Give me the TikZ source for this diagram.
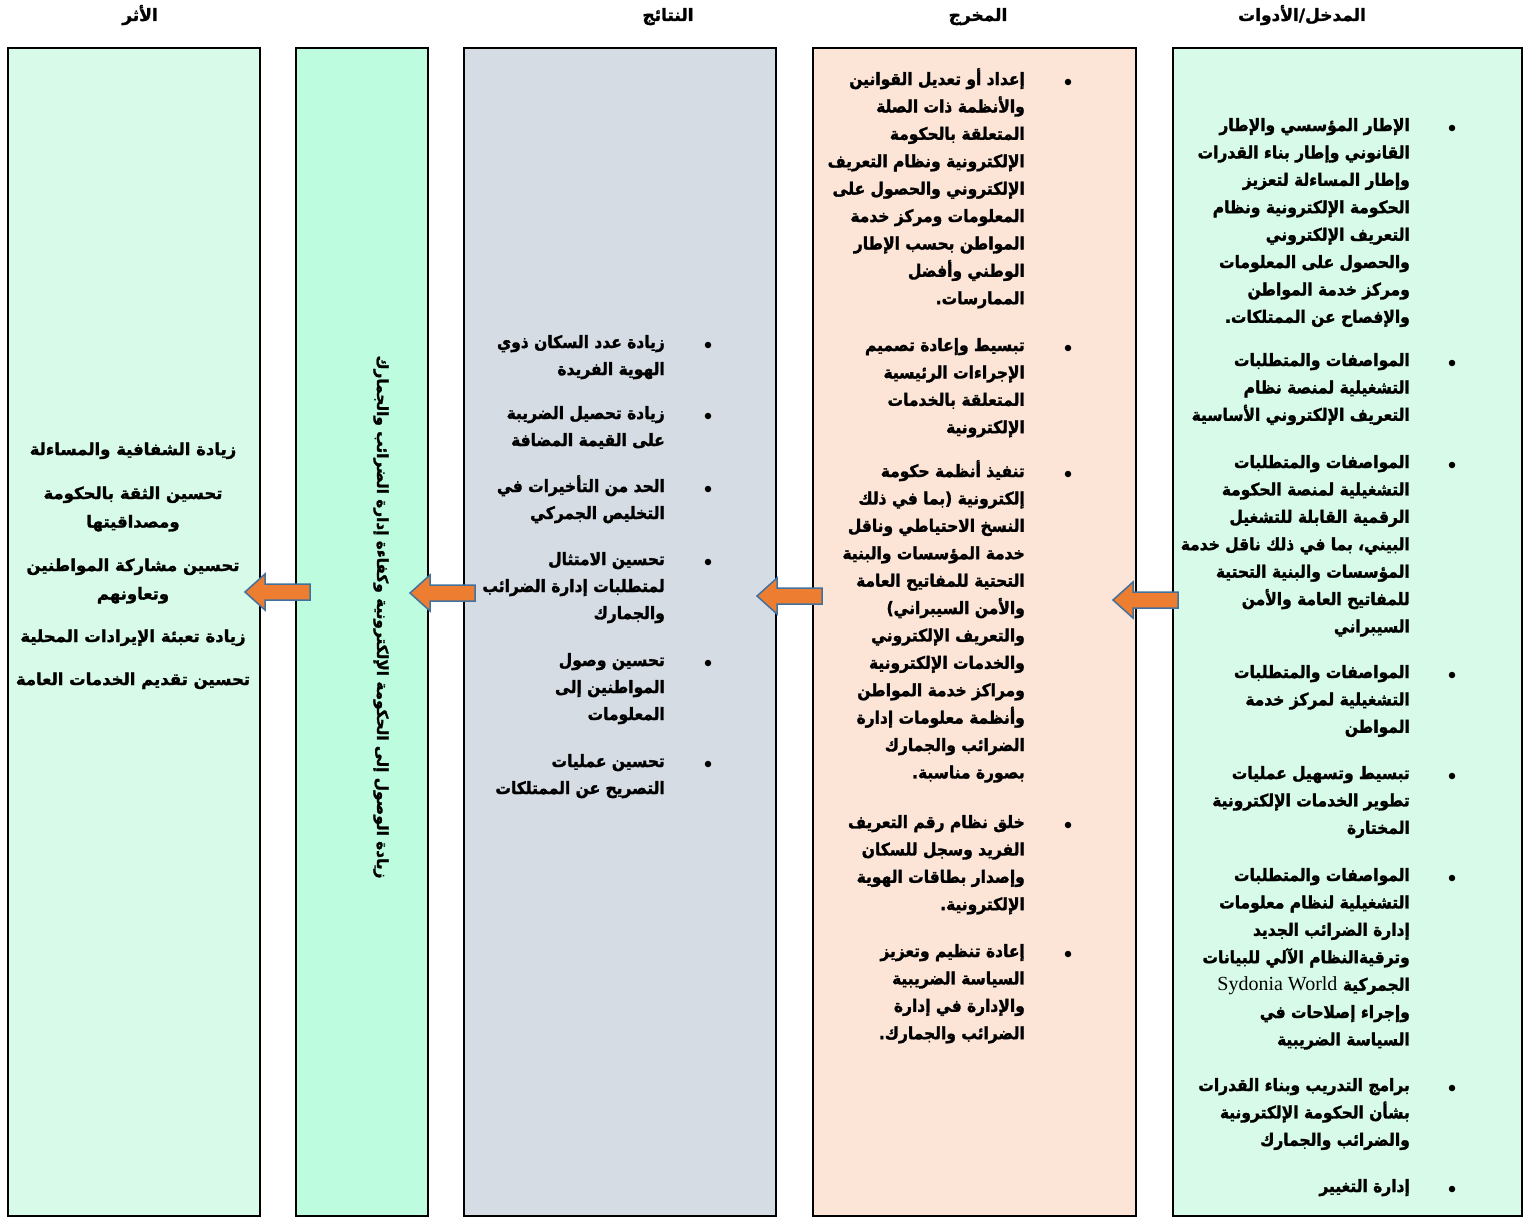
\documentclass[tikz,border=0pt]{standalone}
\usepackage{fontspec}
\TeXXeTstate=1
\newfontfamily\arabicfont[Script=Arabic, FakeStretch=0.91, BoldFeatures={FakeBold=1.8}]{DejaVu Sans}
\newfontfamily\arabicwide[Script=Arabic, BoldFeatures={FakeBold=1.6}]{DejaVu Sans}
\newfontfamily\latinserif{Liberation Serif}
\newcommand\rtlline[1]{\beginR #1\endR}
\definecolor{inputfill}{RGB}{215,251,232}
\definecolor{outputfill}{RGB}{252,228,214}
\definecolor{resultfill}{RGB}{214,220,228}
\definecolor{goalfill}{RGB}{189,252,222}
\definecolor{arrowfill}{RGB}{237,125,49}
\definecolor{arrowline}{RGB}{65,113,156}
\tikzset{
  colbox/.style={draw=black, line width=2pt, anchor=north west, inner sep=0pt},
  itm/.style={font=\arabicfont\bfseries\fontsize{17}{27.4}\selectfont, align=right, anchor=base east, inner sep=0pt},
  itmc/.style={font=\arabicfont\bfseries\fontsize{17}{27}\selectfont, align=right, anchor=base east, inner sep=0pt},
  imp/.style={font=\arabicwide\bfseries\fontsize{16.5}{28.5}\selectfont, align=center, anchor=base, inner sep=0pt},
  hdr/.style={font=\arabicwide\bfseries\fontsize{17}{20}\selectfont, anchor=base, inner sep=0pt},
  bdot/.style={circle, fill=black, inner sep=0pt, minimum size=6.5pt},
  blockarrow/.style={fill=arrowfill, draw=arrowline, line width=1.5pt, line join=miter},
}
\begin{document}
\begin{tikzpicture}[x=1pt,y=-1pt]
\useasboundingbox (0,0) rectangle (1528,1217);
% column boxes
\node[colbox, fill=inputfill, minimum width=349pt, minimum height=1168pt] (inA) at (1172,47) {};
\node[colbox, fill=outputfill, minimum width=323pt, minimum height=1168pt] (outB) at (812,47) {};
\node[colbox, fill=resultfill, minimum width=312pt, minimum height=1168pt] (resC) at (463,47) {};
\node[colbox, fill=goalfill, minimum width=132pt, minimum height=1168pt] (goalD) at (295,47) {};
\node[colbox, fill=inputfill, minimum width=252pt, minimum height=1168pt] (impE) at (7,47) {};
% headers
\node[hdr] (h1) at (1302,21) {\rtlline{المدخل/الأدوات}};
\node[hdr] (h2) at (978,21) {\rtlline{المخرج}};
\node[hdr] (h3) at (668,21) {\rtlline{النتائج}};
\node[hdr] (h4) at (140,21) {\rtlline{الأثر}};
% column A (nodes placed at the baseline of their last line)
\node[bdot] (ba1) at (1452,128) {};
\node[itm] (a1) at (1410,322.8) {\rtlline{الإطار المؤسسي والإطار}\\\rtlline{القانوني وإطار بناء القدرات}\\\rtlline{وإطار المساءلة لتعزيز}\\\rtlline{الحكومة الإلكترونية ونظام}\\\rtlline{التعريف الإلكتروني}\\\rtlline{والحصول على المعلومات}\\\rtlline{ومركز خدمة المواطن}\\\rtlline{والإفصاح عن الممتلكات.}};
\node[bdot] (ba2) at (1452,363) {};
\node[itm] (a2) at (1410,420.8) {\rtlline{المواصفات والمتطلبات}\\\rtlline{التشغيلية لمنصة نظام}\\\rtlline{التعريف الإلكتروني الأساسية}};
\node[bdot] (ba3) at (1452,465) {};
\node[itm] (a3) at (1410,632.4) {\rtlline{المواصفات والمتطلبات}\\\rtlline{التشغيلية لمنصة الحكومة}\\\rtlline{الرقمية القابلة للتشغيل}\\\rtlline{البيني، بما في ذلك ناقل خدمة}\\\rtlline{المؤسسات والبنية التحتية}\\\rtlline{للمفاتيح العامة والأمن}\\\rtlline{السيبراني}};
\node[bdot] (ba4) at (1452,675) {};
\node[itm] (a4) at (1410,732.8) {\rtlline{المواصفات والمتطلبات}\\\rtlline{التشغيلية لمركز خدمة}\\\rtlline{المواطن}};
\node[bdot] (ba5) at (1452,776) {};
\node[itm] (a5) at (1410,833.8) {\rtlline{تبسيط وتسهيل عمليات}\\\rtlline{تطوير الخدمات الإلكترونية}\\\rtlline{المختارة}};
\node[bdot] (ba6) at (1452,878) {};
\node[itm] (a6) at (1410,1045.4) {\rtlline{المواصفات والمتطلبات}\\\rtlline{التشغيلية لنظام معلومات}\\\rtlline{إدارة الضرائب الجديد}\\\rtlline{وترقيةالنظام الآلي للبيانات}\\\rtlline{الجمركية \beginL{\latinserif\mdseries\fontsize{20}{27.4}\selectfont Sydonia World}\endL}\\\rtlline{وإجراء إصلاحات في}\\\rtlline{السياسة الضريبية}};
\node[bdot] (ba7) at (1452,1088) {};
\node[itm] (a7) at (1410,1145.8) {\rtlline{برامج التدريب وبناء القدرات}\\\rtlline{بشأن الحكومة الإلكترونية}\\\rtlline{والضرائب والجمارك}};
\node[bdot] (ba8) at (1452,1189) {};
\node[itm] (a8) at (1410,1192) {\rtlline{إدارة التغيير}};
% column B
\node[bdot] (bb1) at (1068,82) {};
\node[itm] (b1) at (1025,304.2) {\rtlline{إعداد أو تعديل القوانين}\\\rtlline{والأنظمة ذات الصلة}\\\rtlline{المتعلقة بالحكومة}\\\rtlline{الإلكترونية ونظام التعريف}\\\rtlline{الإلكتروني والحصول على}\\\rtlline{المعلومات ومركز خدمة}\\\rtlline{المواطن بحسب الإطار}\\\rtlline{الوطني وأفضل}\\\rtlline{الممارسات.}};
\node[bdot] (bb2) at (1068,348) {};
\node[itm] (b2) at (1025,433.2) {\rtlline{تبسيط وإعادة تصميم}\\\rtlline{الإجراءات الرئيسية}\\\rtlline{المتعلقة بالخدمات}\\\rtlline{الإلكترونية}};
\node[bdot] (bb3) at (1068,474) {};
\node[itm] (b3) at (1025,778.4) {\rtlline{تنفيذ أنظمة حكومة}\\\rtlline{إلكترونية (بما في ذلك}\\\rtlline{النسخ الاحتياطي وناقل}\\\rtlline{خدمة المؤسسات والبنية}\\\rtlline{التحتية للمفاتيح العامة}\\\rtlline{والأمن السيبراني)}\\\rtlline{والتعريف الإلكتروني}\\\rtlline{والخدمات الإلكترونية}\\\rtlline{ومراكز خدمة المواطن}\\\rtlline{وأنظمة معلومات إدارة}\\\rtlline{الضرائب والجمارك}\\\rtlline{بصورة مناسبة.}};
\node[bdot] (bb4) at (1068,825) {};
\node[itm] (b4) at (1025,910.2) {\rtlline{خلق نظام رقم التعريف}\\\rtlline{الفريد وسجل للسكان}\\\rtlline{وإصدار بطاقات الهوية}\\\rtlline{الإلكترونية.}};
\node[bdot] (bb5) at (1068,954) {};
\node[itm] (b5) at (1025,1039.2) {\rtlline{إعادة تنظيم وتعزيز}\\\rtlline{السياسة الضريبية}\\\rtlline{والإدارة في إدارة}\\\rtlline{الضرائب والجمارك.}};
% column C
\node[bdot] (bc1) at (708,345) {};
\node[itmc] (c1) at (665,375) {\rtlline{زيادة عدد السكان ذوي}\\\rtlline{الهوية الفريدة}};
\node[bdot] (bc2) at (708,416) {};
\node[itmc] (c2) at (665,446) {\rtlline{زيادة تحصيل الضريبة}\\\rtlline{على القيمة المضافة}};
\node[bdot] (bc3) at (708,489) {};
\node[itmc] (c3) at (665,519) {\rtlline{الحد من التأخيرات في}\\\rtlline{التخليص الجمركي}};
\node[bdot] (bc4) at (708,562) {};
\node[itmc] (c4) at (665,619) {\rtlline{تحسين الامتثال}\\\rtlline{لمتطلبات إدارة الضرائب}\\\rtlline{والجمارك}};
\node[bdot] (bc5) at (708,663) {};
\node[itmc] (c5) at (665,720) {\rtlline{تحسين وصول}\\\rtlline{المواطنين إلى}\\\rtlline{المعلومات}};
\node[bdot] (bc6) at (708,764) {};
\node[itmc] (c6) at (665,794) {\rtlline{تحسين عمليات}\\\rtlline{التصريح عن الممتلكات}};
% column D (vertical)
\node[font=\arabicwide\bfseries\fontsize{15.3}{18}\selectfont, rotate=-90, inner sep=0pt] (goal) at (381,617) {\rtlline{زيادة الوصول إلى الحكومة الإلكترونية وكفاءة إدارة الضرائب والجمارك}};
% column E
\node[imp] (e1) at (133,455) {\rtlline{زيادة الشفافية والمساءلة}};
\node[imp] (e2) at (133,527.5) {\rtlline{تحسين الثقة بالحكومة}\\\rtlline{ومصداقيتها}};
\node[imp] (e3) at (133,599.5) {\rtlline{تحسين مشاركة المواطنين}\\\rtlline{وتعاونهم}};
\node[imp] (e4) at (133,642) {\rtlline{زيادة تعبئة الإيرادات المحلية}};
\node[imp] (e5) at (133,685) {\rtlline{تحسين تقديم الخدمات العامة}};
% arrows
\coordinate (t1) at (1113,600);
\coordinate (t2) at (757,596);
\coordinate (t3) at (410,593);
\coordinate (t4) at (245,592);
\foreach \t in {t1,t2,t3,t4}{
  \draw[blockarrow] (\t) -- ++(20,-18) -- ++(0,10) -- ++(45,0) -- ++(0,16) -- ++(-45,0) -- ++(0,10) -- cycle;
}
\end{tikzpicture}
\end{document}
